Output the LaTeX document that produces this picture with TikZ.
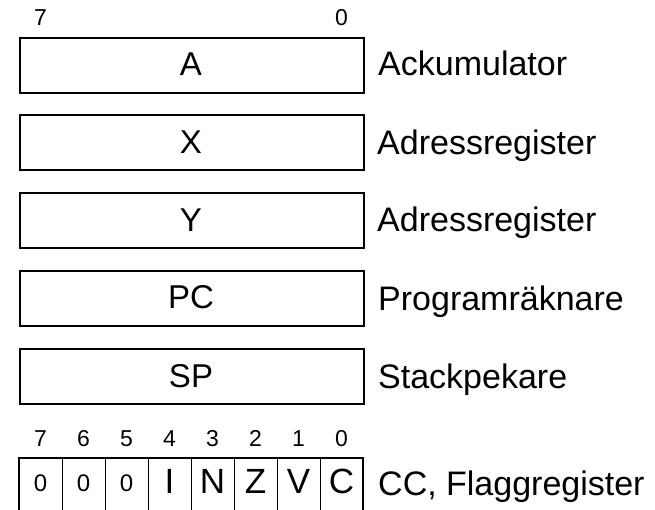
\documentclass[tikz,border=0pt]{standalone}
\usepackage{fontspec}
\setmainfont{Liberation Sans}
\begin{document}
\begin{tikzpicture}[x=1pt,y=1pt,
  reg/.style={draw, line width=1.8pt, minimum width=344pt, minimum height=55pt, inner sep=0pt, anchor=north west},
  regtxt/.style={anchor=base, inner sep=0pt, font=\fontsize{33}{38}\selectfont},
  lbl/.style={anchor=base west, inner sep=0pt, font=\fontsize{34}{40}\selectfont},
  bitnum/.style={anchor=base, inner sep=0pt, font=\fontsize{23}{27}\selectfont},
  zero/.style={anchor=base, inner sep=0pt, font=\fontsize{24}{28}\selectfont},
  flag/.style={anchor=base, inner sep=0pt, font=\fontsize{35}{40}\selectfont},
  cellline/.style={line width=1pt}]
\useasboundingbox (0,0) rectangle (655,509);
\begin{scope}
\clip (0,0) rectangle (655,509);
% registers
\node[reg] (rA) at (19,472) {};
\node[reg] (rX) at (19,395) {};
\node[reg] (rY) at (19,316.5) {};
\node[reg] (rPC) at (19,239) {};
\node[reg] (rSP) at (19,161) {};
\node[regtxt] (tA) at (191,433) {A};
\node[regtxt] (tX) at (191,355) {X};
\node[regtxt] (tY) at (191,277) {Y};
\node[regtxt] (tPC) at (191,201) {PC};
\node[regtxt] (tSP) at (191,122) {SP};
% labels
\node[lbl] (lA) at (378,433) {Ackumulator};
\node[lbl] (lX) at (377,354) {Adressregister};
\node[lbl] (lY) at (377,277) {Adressregister};
\node[lbl] (lPC) at (378,199) {Programräknare};
\node[lbl] (lSP) at (378,121) {Stackpekare};
\node[lbl] (lCC) at (378,14) {CC, Flaggregister};
% top bit numbers
\node[bitnum] (b7) at (40.5,483.3) {7};
\node[bitnum] (b0) at (341.5,483.3) {0};
% CC register
\draw[line width=1.8pt] (19,-5) rectangle (363,51.3);
\foreach \i in {1,...,7}{
  \draw[cellline] ({19+43*\i},-5) -- ({19+43*\i},51.3);
}
\foreach \n [count=\k from 0] in {7,6,5,4,3,2,1,0}{
  \node[bitnum] (cb\n) at ({40.5+43*\k},62.3) {\n};
}
\node[zero] (f7) at (40.5,17.3) {0};
\node[zero] (f6) at (83.5,17.3) {0};
\node[zero] (f5) at (126.5,17.3) {0};
\node[flag] (f4) at (169.5,15.7) {I};
\node[flag] (f3) at (212.5,15.7) {N};
\node[flag] (f2) at (255.5,15.7) {Z};
\node[flag] (f1) at (298.5,15.7) {V};
\node[flag] (f0) at (341.5,15.7) {C};
\end{scope}
\end{tikzpicture}
\end{document}
